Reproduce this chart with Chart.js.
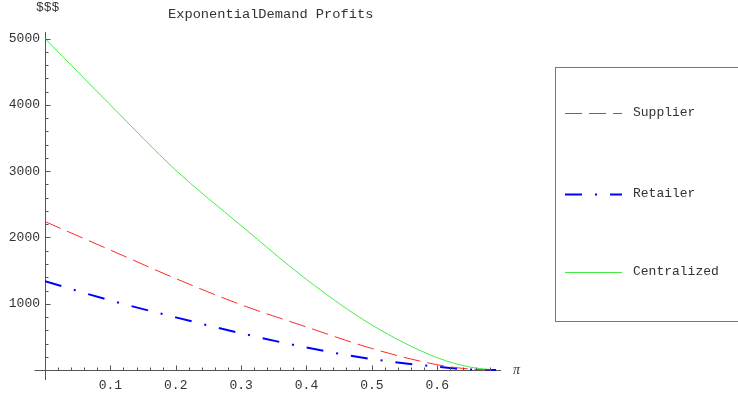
<!DOCTYPE html>
<html>
<head>
<meta charset="utf-8">
<script src="https://cdn.jsdelivr.net/npm/chart.js@4.4.1/dist/chart.umd.min.js"></script>
<style>
  html, body { margin: 0; padding: 0; background: #fff; }
  #wrap { position: relative; width: 738px; height: 398px; }
</style>
</head>
<body>
<div id="wrap"><canvas id="profitChart"></canvas></div>
<script>
// price (pi) on the x axis, profits in $$$
const prices = [0, 0.1, 0.2, 0.3, 0.4, 0.5, 0.6, 0.65, 0.69];
const supplierProfit = [2240, 1810, 1380, 985, 650, 325, 80, 15, 0];
const retailerProfit = [1340, 1050, 795, 555, 340, 165, 50, 8, 0];
const centralizedProfit = [5000, 4000, 3015, 2180, 1367, 680, 186, 45, 0];

const xTickLabels = [0.1, 0.2, 0.3, 0.4, 0.5, 0.6];
const yTickLabels = [1000, 2000, 3000, 4000, 5000];

const FONT = "'Liberation Mono', monospace";
const TEXT = '#333';
const AXIS = '#555';

function points(ys) {
  return prices.map((p, i) => ({ x: p, y: ys[i] }));
}

// mathematica style tick marks, pointing into the plot
const tickMarks = {
  id: 'tickMarks',
  afterDraw(chart) {
    const ctx = chart.ctx;
    const xs = chart.scales.x, ys = chart.scales.y;
    const x0 = Math.round(xs.getPixelForValue(0)) + 0.5;
    const y0 = Math.round(ys.getPixelForValue(0)) + 0.5;
    ctx.save();
    ctx.strokeStyle = AXIS;
    ctx.lineWidth = 1;
    ctx.beginPath();
    // bit of x axis sticking out left of the y axis
    ctx.moveTo(x0 - 11, y0);
    ctx.lineTo(x0, y0);
    for (let k = 1; k <= 34; k++) {
      const v = k * 0.02;
      const px = Math.round(xs.getPixelForValue(v)) + 0.5;
      const len = k % 5 === 0 ? 5 : 3;
      ctx.moveTo(px, y0);
      ctx.lineTo(px, y0 - len);
    }
    for (let k = 1; k <= 25; k++) {
      const v = k * 200;
      const py = Math.round(ys.getPixelForValue(v)) + 0.5;
      const len = k % 5 === 0 ? 5 : 3;
      ctx.moveTo(x0, py);
      ctx.lineTo(x0 + len, py);
    }
    ctx.stroke();
    ctx.restore();
  }
};

const labelsAndLegend = {
  id: 'labelsAndLegend',
  afterDraw(chart) {
    const ctx = chart.ctx;
    ctx.save();
    ctx.fillStyle = TEXT;
    ctx.font = '13px ' + FONT;
    ctx.textBaseline = 'middle';
    ctx.textAlign = 'left';
    ctx.fillText('$$$', 36, 8);
    ctx.font = '13.7px ' + FONT;
    ctx.fillText('ExponentialDemand Profits', 168, 14);
    ctx.font = 'italic 14px "Liberation Serif", serif';
    ctx.fillText('\u03c0', 513, 370);

    // framed legend on the right
    ctx.strokeStyle = '#777';
    ctx.lineWidth = 1;
    ctx.strokeRect(555.5, 67.5, 200, 254);
    const rows = [113, 194, 272];
    chart.data.datasets.forEach((ds, i) => {
      const y = rows[i] + 0.5;
      ctx.strokeStyle = ds.borderColor;
      ctx.lineWidth = ds.borderWidth;
      ctx.setLineDash(ds.borderDash || []);
      ctx.beginPath();
      ctx.moveTo(565, y);
      ctx.lineTo(622, y);
      ctx.stroke();
      ctx.setLineDash([]);
      ctx.fillStyle = TEXT;
      ctx.font = '13px ' + FONT;
      ctx.fillText(ds.label, 633, rows[i]);
    });
    ctx.restore();
  }
};

const config = {
  type: 'line',
  data: {
    datasets: [
      {
        label: 'Supplier',
        data: points(supplierProfit),
        borderColor: 'rgb(255,40,40)',
        borderWidth: 1,
        borderDash: [17, 7]
      },
      {
        label: 'Retailer',
        data: points(retailerProfit),
        borderColor: '#0000ff',
        borderWidth: 2,
        borderDash: [17, 13, 2, 13]
      },
      {
        label: 'Centralized',
        data: points(centralizedProfit),
        borderColor: 'rgb(70,235,70)',
        borderWidth: 1
      }
    ]
  },
  options: {
    responsive: true,
    maintainAspectRatio: false,
    animation: false,
    layout: { padding: { left: 0, right: 238, top: 32, bottom: 19 } },
    elements: {
      point: { radius: 0 },
      line: { cubicInterpolationMode: 'monotone', fill: false }
    },
    plugins: {
      legend: { display: false },
      tooltip: { enabled: false }
    },
    scales: {
      x: {
        type: 'linear',
        min: 0,
        max: 0.696,
        position: { y: 0 },
        grid: { drawOnChartArea: false, drawTicks: false },
        border: { display: true, color: AXIS, width: 1 },
        afterFit: (s) => { s.height = 0; },
        afterBuildTicks: (s) => { s.ticks = xTickLabels.map(v => ({ value: v })); },
        ticks: {
          padding: 8,
          maxRotation: 0,
          autoSkip: false,
          color: TEXT,
          font: { family: FONT, size: 13 },
          callback: (v) => v.toFixed(1)
        }
      },
      y: {
        type: 'linear',
        min: -135,
        max: 5100,
        position: 'left',
        grid: { drawOnChartArea: false, drawTicks: false },
        border: { display: true, color: AXIS, width: 1 },
        afterFit: (s) => { s.width = 45; },
        afterBuildTicks: (s) => { s.ticks = yTickLabels.map(v => ({ value: v })); },
        ticks: {
          padding: 5,
          autoSkip: false,
          color: TEXT,
          font: { family: FONT, size: 13 },
          callback: (v) => String(v)
        }
      }
    }
  },
  plugins: [tickMarks, labelsAndLegend]
};

window.addEventListener('DOMContentLoaded', () => {
  new Chart(document.getElementById('profitChart'), config);
});
</script>
</body>
</html>
